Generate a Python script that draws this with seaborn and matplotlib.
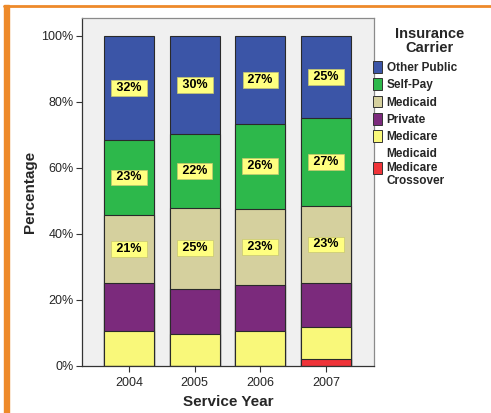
import matplotlib
matplotlib.use("Agg")
import matplotlib.pyplot as plt
import seaborn as sns
import numpy as np
from matplotlib.patches import Patch, Rectangle
from matplotlib.lines import Line2D

# percent of claims per carrier, stacked bottom -> top
years = ["2004", "2005", "2006", "2007"]
crossover = [0.0, 0.0, 0.0, 2.2]
medicare = [10.6, 9.8, 10.5, 9.6]
private = [14.6, 13.6, 14.0, 13.4]
medicaid = [20.6, 24.6, 23.1, 23.2]
self_pay = [22.6, 22.3, 25.8, 26.6]
other_public = [31.6, 29.7, 26.6, 25.0]

carriers = ["Medicaid\nMedicare\nCrossover", "Medicare", "Private", "Medicaid", "Self-Pay", "Other Public"]
colors = ["#EF3338", "#F9F87A", "#7B2A7C", "#D5D09E", "#2DB84B", "#3B55A7"]
labelled = ["Medicaid", "Self-Pay", "Other Public"]

sns.set_style("white")
plt.rcParams["font.family"] = ["Liberation Sans", "DejaVu Sans"]

series = [crossover, medicare, private, medicaid, self_pay, other_public]
tops = np.cumsum(np.array(series), axis=0)
bottoms = tops - np.array(series)

fig = plt.figure(figsize=(4.91, 4.13), dpi=100)
ax = fig.add_axes([82 / 491, 1 - 366 / 413, (374 - 82) / 491, (366 - 18) / 413])
ax.set_facecolor("#F0F0F0")

# draw cumulative totals from the top layer down so each one covers the previous
for i in range(len(series) - 1, -1, -1):
    sns.barplot(x=years, y=tops[i], color=colors[i], saturation=1, width=0.76,
                edgecolor="#2a2a2a", linewidth=0.8, ax=ax, zorder=2)

for i, name in enumerate(carriers):
    if name not in labelled:
        continue
    for j in range(len(years)):
        mid = (tops[i][j] + bottoms[i][j]) / 2
        ax.text(j, mid, " %d%% " % round(series[i][j]), ha="center", va="center",
                fontsize=9, fontweight="bold", color="black", zorder=5,
                bbox=dict(boxstyle="square,pad=0.15", fc="#FFFF80", ec="#C8C870", lw=0.5))

ax.set_xlim(-0.715, 3.73)
ax.set_ylim(0, 105.4)
ax.set_yticks([0, 20, 40, 60, 80, 100])
ax.set_yticklabels(["%d%%" % v for v in [0, 20, 40, 60, 80, 100]])
ax.tick_params(axis="both", length=4, width=0.8, color="#333333", labelsize=9, pad=2,
               left=True, bottom=True)
ax.tick_params(axis="x", pad=4)
ax.set_xlabel("Service Year", fontsize=11, fontweight="bold", labelpad=4)
ax.set_ylabel("Percentage", fontsize=11, fontweight="bold", labelpad=3)

for side in ["left", "bottom"]:
    ax.spines[side].set_color("#333333")
    ax.spines[side].set_linewidth(0.9)
for side in ["top", "right"]:
    ax.spines[side].set_color("#8a8a8a")
    ax.spines[side].set_linewidth(0.9)

# legend, drawn top -> bottom like the reference
handles = [Patch(facecolor=colors[i], edgecolor="#333333", linewidth=0.7, label=carriers[i])
           for i in range(len(carriers) - 1, -1, -1)]
fig.text(430 / 491, 1 - 41 / 413, "Insurance\nCarrier", ha="center", va="center",
         fontsize=10.5, fontweight="bold", linespacing=0.95)
fig.legend(handles=handles, loc="upper left", bbox_to_anchor=(373 / 491, 1 - 61 / 413),
           frameon=False, prop={"size": 8.5, "weight": "bold"}, handlelength=0.8,
           handleheight=1.15, handletextpad=0.35, labelspacing=0.38, borderpad=0,
           borderaxespad=0)

# orange page frame
fig.add_artist(Line2D([4 / 491, 1], [1 - 6 / 413, 1 - 6 / 413], color="#EE8A2A", lw=2,
                      transform=fig.transFigure))
fig.add_artist(Rectangle((4 / 491, 0), 5 / 491, 1 - 5 / 413, color="#EE8A2A",
                         transform=fig.transFigure))

fig.savefig("out.png", dpi=100)
